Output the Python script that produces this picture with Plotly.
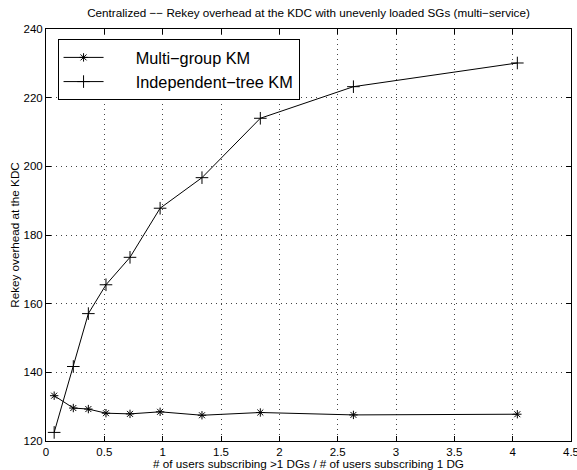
import plotly.graph_objects as go

x_vals = [0.07, 0.234, 0.363, 0.514, 0.72, 0.978, 1.337, 1.837, 2.635, 4.04]
multi_group = [133.2, 129.6, 129.3, 128.1, 127.9, 128.5, 127.5, 128.3, 127.6, 127.8]
independent_tree = [122.5, 141.7, 157.1, 165.5, 173.5, 187.8, 196.7, 214.0, 223.2, 230.1]

x_ticks = [0, 0.5, 1, 1.5, 2, 2.5, 3, 3.5, 4, 4.5]
x_tick_text = ["0", "0.5", "1", "1.5", "2", "2.5", "3", "3.5", "4", "4.5"]
y_ticks = [120, 140, 160, 180, 200, 220, 240]

PAD = "\u00a0\u00a0\u00a0\u00a0\u00a0\u00a0"

fig = go.Figure()
fig.add_trace(go.Scatter(
    x=x_vals, y=multi_group, mode="lines+markers", name=PAD + "Multi\u2212group KM",
    line=dict(color="black", width=1),
    marker=dict(symbol="asterisk-open", size=7, color="black", line=dict(width=1, color="black")),
))
fig.add_trace(go.Scatter(
    x=x_vals, y=independent_tree, mode="lines+markers", name=PAD + "Independent\u2212tree KM",
    line=dict(color="black", width=1),
    marker=dict(symbol="cross-thin-open", size=9, color="black", line=dict(width=1, color="black")),
))

axis_common = dict(
    showline=True, linecolor="black", linewidth=1, mirror="ticks",
    ticks="inside", ticklen=5, tickcolor="black",
    showgrid=True, gridcolor="#444", griddash="1px,4px", gridwidth=1,
    zeroline=False, tickfont=dict(size=11.5, color="black"), automargin=False,
    ticklabeloverflow="allow",
)

fig.update_layout(
    width=577, height=470,
    margin=dict(l=46, r=6, t=29, b=29),
    paper_bgcolor="white", plot_bgcolor="white",
    font=dict(family="Liberation Sans, Arial, sans-serif", color="black", size=11.5),
    title=dict(text="Centralized \u2212\u2212 Rekey overhead at the KDC with unevenly loaded SGs (multi\u2212service)",
               x=0.5, xref="paper", xanchor="center", y=1 - 9 / 470, yanchor="top", font=dict(size=11.7)),
    xaxis=dict(range=[0, 4.5], tickvals=x_ticks, ticktext=x_tick_text,
               title=dict(text="# of users subscribing >1 DGs / # of users subscribing 1 DG", standoff=1,
                          font=dict(size=11.7)),
               **axis_common),
    yaxis=dict(range=[120, 240], tickvals=y_ticks,
               title=dict(text="Rekey overhead at the KDC", standoff=1, font=dict(size=11.7)),
               **axis_common),
    legend=dict(x=0.022, y=0.975, xanchor="left", yanchor="top",
                bgcolor="white", bordercolor="black", borderwidth=1,
                font=dict(size=16.3), tracegroupgap=0, itemwidth=40),
    showlegend=True,
)

fig.write_html("out.html", config={"displayModeBar": False},
               post_script="document.body.style.margin='0';document.body.style.overflow='hidden';")
